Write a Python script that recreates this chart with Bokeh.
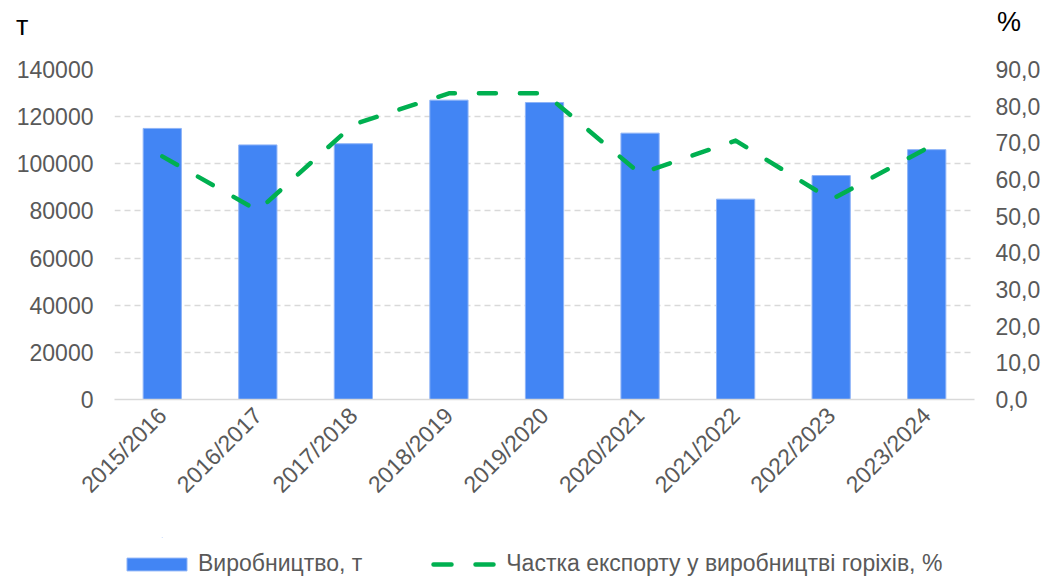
import math
from bokeh.plotting import figure
from bokeh.layouts import column
from bokeh.models import (Range1d, LinearAxis, FixedTicker, NumeralTickFormatter,
                          Legend, LegendItem, FactorRange, ColumnDataSource, Div)
from bokeh.embed import file_html
from bokeh.resources import INLINE

seasons = ["2015/2016", "2016/2017", "2017/2018", "2018/2019", "2019/2020",
           "2020/2021", "2021/2022", "2022/2023", "2023/2024"]
production_t = [115000, 108000, 108500, 127000, 126000, 113000, 85000, 95000, 106000]
export_share_pct = [66.3, 51.5, 75.0, 83.5, 83.5, 61.6, 70.6, 54.5, 68.5]

left_ticks = [0, 20000, 40000, 60000, 80000, 100000, 120000, 140000]
right_ticks = [0, 10, 20, 30, 40, 50, 60, 70, 80, 90]
right_tick_labels = {t: f"{t},0" for t in right_ticks}

bar_label = "Виробництво, т"
line_label = "Частка експорту у виробництві горіхів, %"
left_unit = "т"
right_unit = "%"

FONT = "Liberation Sans"
TICK_COLOR = "#595959"
GRID_COLOR = "#D9D9D9"
BAR_FILL = "#4285F4"
BAR_EDGE = "#8DB3F7"
LINE_COLOR = "#00B050"

# ---------- header with unit captions ----------
HEADER_H = 54
FOOTER_H = 40
span_css = ("position:absolute;font-family:'Liberation Sans',Arial,sans-serif;"
            "font-size:27px;line-height:27px;color:#000;white-space:nowrap;margin:0;padding:0;")
header_html = (
    f'<div style="position:relative;width:1043px;height:{HEADER_H}px;margin:0;padding:0;">'
    f'<span style="{span_css}left:16px;top:13px;">{left_unit}</span>'
    f'<span style="{span_css}left:997px;top:9px;">{right_unit}</span>'
    '</div>'
)
header = Div(text=header_html, width=1043, height=HEADER_H, margin=0,
             styles={"margin": "0", "padding": "0", "overflow": "visible"})

# ---------- main chart ----------
src = ColumnDataSource(dict(season=seasons, production=production_t, share=export_share_pct))

p = figure(x_range=FactorRange(*seasons), y_range=Range1d(0, 140000),
           frame_width=860, frame_height=330,
           min_border_left=114, min_border_right=69, min_border_top=69 - HEADER_H,
           min_border_bottom=178 - FOOTER_H,
           output_backend="svg", toolbar_location=None)
p.outline_line_color = None
p.background_fill_color = "white"
p.border_fill_color = "white"

p.extra_y_ranges = {"pct": Range1d(0, 90)}

bar_style = dict(fill_color=BAR_FILL, line_color=BAR_EDGE, line_width=1)
line_style = dict(line_color=LINE_COLOR, line_width=4.5, line_dash="17 24",
                  line_cap="round", line_join="round")

bars = p.vbar(x="season", top="production", width=0.4, source=src, **bar_style)
line = p.line(x="season", y="share", source=src, y_range_name="pct", **line_style)

# left axis
ya = p.yaxis[0]
ya.ticker = FixedTicker(ticks=left_ticks)
ya.formatter = NumeralTickFormatter(format="0")
ya.axis_line_color = None
ya.major_tick_line_color = None
ya.minor_tick_line_color = None
ya.major_tick_out = 0
ya.minor_tick_out = 0
ya.major_label_standoff = 21
ya.major_label_text_font = FONT
ya.major_label_text_font_size = "23px"
ya.major_label_text_color = TICK_COLOR

# right axis
ra = LinearAxis(y_range_name="pct", ticker=FixedTicker(ticks=right_ticks),
                major_label_overrides=right_tick_labels)
ra.axis_line_color = None
ra.major_tick_line_color = None
ra.minor_tick_line_color = None
ra.major_tick_out = 0
ra.minor_tick_out = 0
ra.major_label_standoff = 21
ra.major_label_text_font = FONT
ra.major_label_text_font_size = "23px"
ra.major_label_text_color = TICK_COLOR
p.add_layout(ra, "right")

# x axis
xa = p.xaxis[0]
xa.major_label_orientation = math.pi / 4
xa.major_label_standoff = 12
xa.major_tick_line_color = None
xa.minor_tick_line_color = None
xa.major_tick_out = 0
xa.axis_line_color = GRID_COLOR
xa.axis_line_width = 1.5
xa.major_label_text_font = FONT
xa.major_label_text_font_size = "23px"
xa.major_label_text_color = TICK_COLOR

# grid
p.xgrid.grid_line_color = None
p.ygrid.ticker = FixedTicker(ticks=left_ticks)
p.ygrid.grid_line_color = GRID_COLOR
p.ygrid.grid_line_width = 1.5
p.ygrid.grid_line_dash = "6 4"

# ---------- footer with the legend ----------
footer = figure(x_range=FactorRange(*seasons), y_range=Range1d(0, 1),
                frame_width=860, frame_height=FOOTER_H,
                min_border_left=114, min_border_right=69, min_border_top=0, min_border_bottom=0,
                x_axis_type=None, y_axis_type=None,
                output_backend="svg", toolbar_location=None)
footer.outline_line_color = None
footer.xgrid.grid_line_color = None
footer.ygrid.grid_line_color = None
# legend keys: same series colours; their data lie outside this strip's range (not drawn)
bars_key = footer.vbar(x=seasons[:1], bottom=production_t[:1], top=production_t[:1],
                       width=0.0001, **bar_style)
line_key = footer.line(x=seasons[:2], y=export_share_pct[:2], line_color=LINE_COLOR,
                       line_width=4.5, line_dash="18 24", line_dash_offset=36,
                       line_cap="round", line_join="round")

legend = Legend(items=[LegendItem(label=bar_label, renderers=[bars_key]),
                       LegendItem(label=line_label, renderers=[line_key])],
                location=(5, 0), orientation="horizontal",
                glyph_width=75, glyph_height=16, label_standoff=4, spacing=65,
                padding=0, margin=0, border_line_color=None, background_fill_alpha=0,
                label_text_font=FONT, label_text_font_size="23px",
                label_text_color=TICK_COLOR)
footer.add_layout(legend)

layout = column(header, p, footer, spacing=0)
open("out.html", "w").write(file_html(layout, INLINE))
